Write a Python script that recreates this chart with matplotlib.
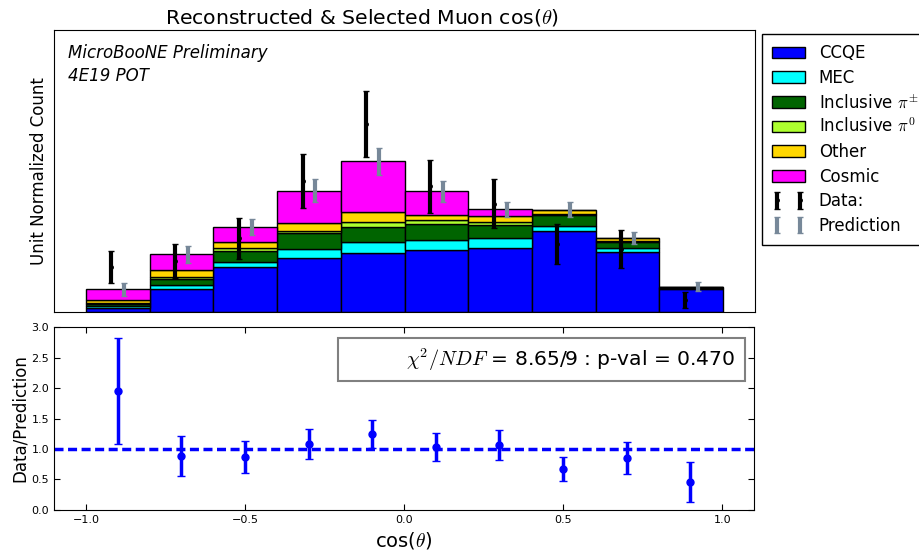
import numpy as np
import matplotlib
matplotlib.use("Agg")
import matplotlib.pyplot as plt
from matplotlib.patches import Rectangle

plt.rcParams['mathtext.fontset'] = 'cm'
plt.rcParams['font.family'] = ['DejaVu Sans']

# Binning in reconstructed cos(theta)
bin_edges = [-1.0, -0.8, -0.6, -0.4, -0.2, 0.0, 0.2, 0.4, 0.6, 0.8, 1.0]

# Stacked prediction, unit normalized
ccqe = [0.0050, 0.0268, 0.0524, 0.0629, 0.0687, 0.0722, 0.0745, 0.0935, 0.0699, 0.0271]
mec = [0.0020, 0.0043, 0.0058, 0.0101, 0.0120, 0.0113, 0.0116, 0.0066, 0.0047, 0.0003]
incl_pipm = [0.0027, 0.0073, 0.0128, 0.0190, 0.0179, 0.0190, 0.0148, 0.0125, 0.0066, 0.0009]
incl_pi0 = [0.0009, 0.0027, 0.0031, 0.0015, 0.0062, 0.0043, 0.0030, 0.0015, 0.0012, 0.0002]
other = [0.0029, 0.0078, 0.0073, 0.0093, 0.0108, 0.0054, 0.0078, 0.0038, 0.0030, 0.0003]
cosmic = [0.0128, 0.0178, 0.0171, 0.0377, 0.0590, 0.0276, 0.0073, 0.0008, 0.0005, 0.0005]
pred_err = [0.0073, 0.0095, 0.0097, 0.0132, 0.0160, 0.0120, 0.0090, 0.0084, 0.0068, 0.0050]

# Selected data, unit normalized
data = [0.0524, 0.0590, 0.0854, 0.1514, 0.2178, 0.1456, 0.1254, 0.0788, 0.0730, 0.0134]
data_err = [0.0186, 0.0196, 0.0241, 0.0314, 0.0381, 0.0309, 0.0285, 0.0229, 0.0221, 0.0093]

# Data / prediction ratio
ratio = [1.95, 0.885, 0.868, 1.08, 1.247, 1.04, 1.06, 0.676, 0.852, 0.456]
ratio_err = [0.87, 0.32, 0.255, 0.24, 0.23, 0.23, 0.245, 0.2, 0.26, 0.33]

chi2 = 8.65
ndf = 9
pval = 0.470

components = [
    (ccqe, 'blue', 'CCQE'),
    (mec, 'cyan', 'MEC'),
    (incl_pipm, 'darkgreen', r'Inclusive $\pi^{\pm}$'),
    (incl_pi0, 'greenyellow', r'Inclusive $\pi^{0}$'),
    (other, 'gold', 'Other'),
    (cosmic, 'magenta', 'Cosmic'),
]


def main():
    edges = np.array(bin_edges)
    centers = 0.5 * (edges[:-1] + edges[1:])
    widths = np.diff(edges)

    fig = plt.figure(figsize=(9.19, 5.57), dpi=100)
    ax = fig.add_axes([0.0588, 0.4399, 0.7628, 0.5063])
    axr = fig.add_axes([0.0588, 0.0844, 0.7617, 0.3285])

    # Stacked MC histogram
    bottom = np.zeros(len(centers))
    for vals, col, lab in components:
        vals = np.array(vals)
        ax.bar(edges[:-1], vals, width=widths, bottom=bottom, align='edge',
               color=col, edgecolor='black', linewidth=1, label=lab)
        bottom += vals
    total = bottom

    ax.errorbar(centers - 0.02, data, yerr=data_err, fmt='.', color='black',
                ecolor='black', elinewidth=3, capsize=2.5, capthick=1,
                markersize=5, label='Data:')
    ax.errorbar(centers + 0.02, total, yerr=pred_err, fmt='none',
                ecolor='lightslategray', elinewidth=3, capsize=2.5, capthick=1,
                label='Prediction')

    ax.set_xlim(-1.1, 1.1)
    ax.set_ylim(0, 0.327)
    ax.set_xticks([])
    ax.set_yticks([])
    ax.set_ylabel('Unit Normalized Count', fontsize=12)
    ax.text(0.02, 0.95, 'MicroBooNE Preliminary', transform=ax.transAxes,
            fontsize=12, style='italic', va='top')
    ax.text(0.02, 0.87, '4E19 POT', transform=ax.transAxes,
            fontsize=12, style='italic', va='top')
    leg = ax.legend(loc='upper left', bbox_to_anchor=(1.01, 0.985), fontsize=12,
                    numpoints=2, fancybox=False, framealpha=1,
                    borderaxespad=0, handlelength=2.0, labelspacing=0.4,
                    borderpad=0.6)
    leg.get_frame().set_edgecolor('black')

    fig.text(0.394, 0.968, r'Reconstructed & Selected Muon cos($\theta$)',
             fontsize=14.7, ha='center', va='center')

    # Ratio panel
    axr.axhline(1.0, color='blue', linestyle='--', linewidth=2.5, dashes=(2.6, 1.3))
    axr.errorbar(centers, ratio, yerr=ratio_err, fmt='o', color='blue',
                 ecolor='blue', elinewidth=2.5, capsize=3, capthick=1,
                 markersize=5)
    axr.set_xlim(-1.1, 1.1)
    axr.set_ylim(0, 3.0)
    axr.set_xticks([-1.0, -0.5, 0.0, 0.5, 1.0])
    axr.set_yticks([0.0, 0.5, 1.0, 1.5, 2.0, 2.5, 3.0])
    axr.tick_params(direction='in', top=True, right=True, labelsize=8,
                    length=4)
    axr.set_ylabel('Data/Prediction', fontsize=12, labelpad=2)
    axr.set_xlabel(r'cos($\theta$)', fontsize=14)

    # Goodness-of-fit box
    axr.add_patch(Rectangle((0.406, 0.705), 0.581, 0.235, transform=axr.transAxes,
                            facecolor='white', edgecolor='gray', linewidth=1.5,
                            zorder=5))
    axr.text(0.973, 0.822,
             r'$\chi^2/NDF$ = %.2f/%d : p-val = %.3f' % (chi2, ndf, pval),
             transform=axr.transAxes, fontsize=14.6, ha='right', va='center',
             zorder=6)

    fig.savefig('out.png', dpi=100)


if __name__ == "__main__":
    main()
